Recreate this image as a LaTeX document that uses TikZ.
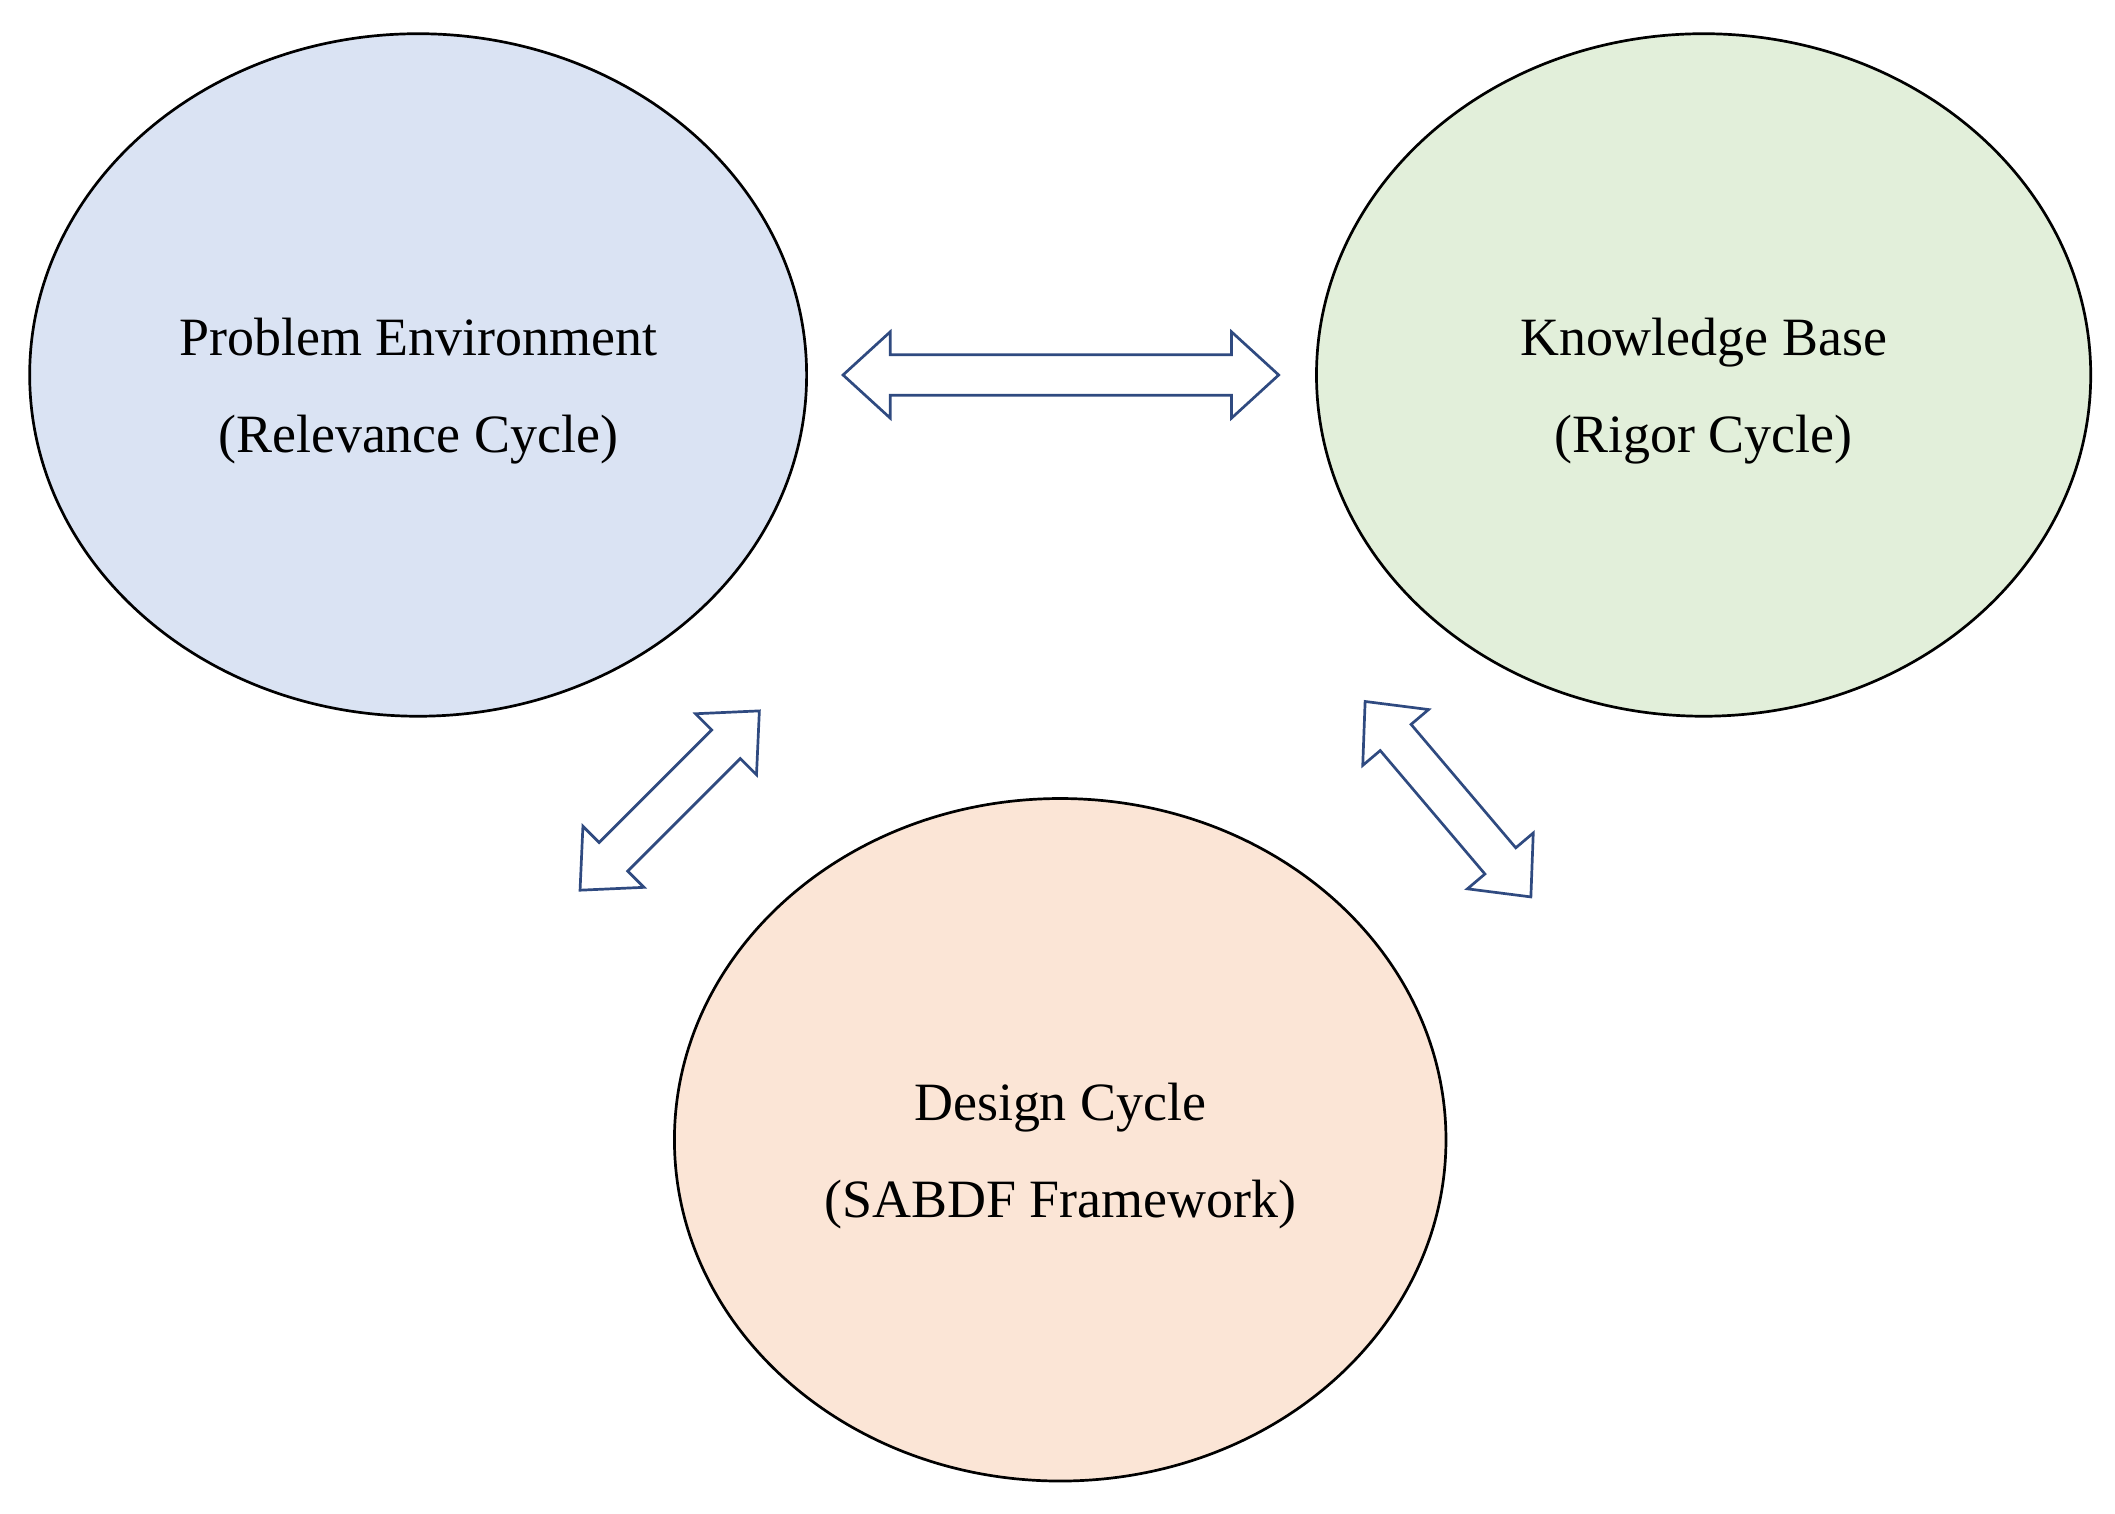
\documentclass[tikz,border=0pt]{standalone}
\usepackage{fontspec}
\setmainfont{Liberation Serif}
\begin{document}
\begin{tikzpicture}[x=0.5pt,y=-0.5pt,
  ell/.style={ellipse, draw=black, line width=1.2pt},
  lab/.style={font=\fontsize{20}{24}\selectfont, align=center},
  arr/.style={draw={rgb,255:red,47;green,74;blue,128}, fill=white, line width=1pt, line join=miter}]
\useasboundingbox (0,0) rectangle (1568,1122);
\definecolor{cblue}{HTML}{DAE3F3}
\definecolor{cgreen}{HTML}{E2EFDA}
\definecolor{corange}{HTML}{FBE5D6}
\path[fill=cblue, draw=black, line width=1pt] (310,278) ellipse [x radius=288, y radius=253];
\path[fill=cgreen, draw=black, line width=1pt] (1263,278) ellipse [x radius=287, y radius=253];
\path[fill=corange, draw=black, line width=1pt] (786,845) ellipse [x radius=286, y radius=253];
\node[lab] (pe) at (310,290) {Problem Environment\\[12pt](Relevance Cycle)};
\node[lab] (kb) at (1263,290) {Knowledge Base\\[12pt](Rigor Cycle)};
\node[lab] (dc) at (786,857) {Design Cycle\\[12pt](SABDF Framework)};
\newcommand{\dblarr}[4]{%
 \begin{scope}[shift={(#1,#2)}, rotate=#3]
  \pgfmathsetmacro{\hl}{#4/2}\pgfmathsetmacro{\hb}{#4/2-35}
  \path[arr] (-\hl,0) -- (-\hb,-32) -- (-\hb,-15) -- (\hb,-15) -- (\hb,-32) -- (\hl,0)
   -- (\hb,32) -- (\hb,15) -- (-\hb,15) -- (-\hb,32) -- cycle;
 \end{scope}}
\dblarr{786.5}{278}{0}{323}
\dblarr{496.5}{593.5}{45}{188}
\dblarr{1073.5}{592.5}{-49.7}{190}
\end{tikzpicture}
\end{document}
